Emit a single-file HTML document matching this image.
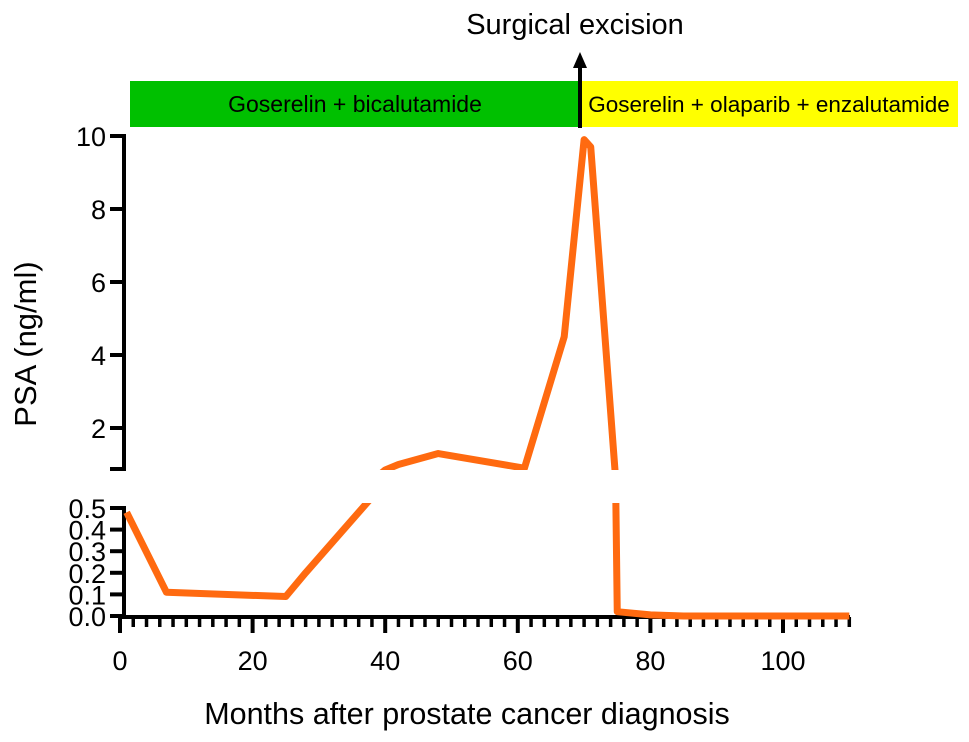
<!DOCTYPE html>
<html><head><meta charset="utf-8"><style>
body{margin:0;background:#fff}
svg{display:block;font-family:"Liberation Sans",Arial,sans-serif}
</style></head><body>
<svg id="chart" width="969" height="742">
<defs>
<clipPath id="clipUp"><rect x="100" y="120" width="800" height="350"/></clipPath>
<clipPath id="clipLo"><rect x="100" y="503" width="800" height="120"/></clipPath>
</defs>
<rect x="130" y="81" width="450" height="46" fill="#00c000"/>
<text x="355" y="112" font-size="23" text-anchor="middle">Goserelin + bicalutamide</text>
<rect x="580" y="81" width="378" height="46" fill="#ffff00"/>
<text x="769" y="112" font-size="22.5" text-anchor="middle">Goserelin + olaparib + enzalutamide</text>
<line x1="580" y1="128" x2="580" y2="66" stroke="#000" stroke-width="4"/>
<polygon points="573,68 587,68 580,52" fill="#000"/>
<text x="575" y="34" font-size="29" text-anchor="middle">Surgical excision</text>
<g id="axes"></g>
<g id="series"></g>
<text x="36" y="344" font-size="31" text-anchor="middle" transform="rotate(-90 36 344)">PSA (ng/ml)</text>
<text x="467" y="724" font-size="30.5" text-anchor="middle">Months after prostate cancer diagnosis</text>
</svg>
<script>
const months=[1,7,25,28,38,40,42,48,61,67,70,71,75,80,85,110];
const psa=[0.48,0.11,0.09,0.2,0.55,0.85,1.0,1.3,0.9,4.5,9.9,9.7,0.02,0.005,0,0];
const xTicks=[0,20,40,60,80,100];
const upTicks=[2,4,6,8,10];
const loTicks=[0,0.1,0.2,0.3,0.4,0.5];
const loLabels=["0.0","0.1","0.2","0.3","0.4","0.5"];
const NS="http://www.w3.org/2000/svg";
const xs=m=>120+m*6.63;
const yUp=v=>136+(10-v)*36.5;
const yLo=v=>616-v*216;
const ax=document.getElementById('axes'),se=document.getElementById('series');
function mk(t,a,p){const e=document.createElementNS(NS,t);for(const k in a)e.setAttribute(k,a[k]);p.appendChild(e);return e;}
let l=mk('line',{x1:124,y1:134,x2:124,y2:471,stroke:'#000','stroke-width':4},ax);


l=mk('line',{x1:110,y1:469,x2:126,y2:469,stroke:'#000','stroke-width':4},ax);


upTicks.forEach(v=>{
 const t=mk('line',{x1:110,y1:yUp(v),x2:124,y2:yUp(v),stroke:'#000','stroke-width':4},ax);
 
 
 const tx=mk('text',{x:106,y:yUp(v)+10,'font-size':27,'text-anchor':'end'},ax);tx.textContent=v;
 
 
});
l=mk('line',{x1:124,y1:506,x2:124,y2:618,stroke:'#000','stroke-width':4},ax);


loTicks.forEach((v,i)=>{
 const t=mk('line',{x1:110,y1:yLo(v),x2:124,y2:yLo(v),stroke:'#000','stroke-width':4},ax);
 
 
 const tx=mk('text',{x:106,y:yLo(v)+10,'font-size':27,'text-anchor':'end'},ax);tx.textContent=loLabels[i];
 
 
});
l=mk('line',{x1:118,y1:617,x2:850,y2:617,stroke:'#000','stroke-width':4},ax);


for(let m=0;m<=110;m+=2){
 const major=m%20===0;
 const t=mk('line',{x1:xs(m),y1:617,x2:xs(m),y2:major?633:627,stroke:'#000','stroke-width':major?4:3.5},ax);
 
 
}
xTicks.forEach(m=>{
 const tx=mk('text',{x:xs(m),y:670,'font-size':27,'text-anchor':'middle'},ax);tx.textContent=m;
 
 
});
const up=months.map((m,i)=>xs(m)+','+yUp(psa[i])).join(' ');
const lo=months.map((m,i)=>xs(m)+','+yLo(psa[i])).join(' ');
let p=mk('polyline',{points:up,fill:'none',stroke:'#ff6a10','stroke-width':7,'stroke-linejoin':'round','clip-path':'url(#clipUp)'},se);


p=mk('polyline',{points:lo,fill:'none',stroke:'#ff6a10','stroke-width':7,'stroke-linejoin':'round','clip-path':'url(#clipLo)'},se);


</script>
</body></html>
